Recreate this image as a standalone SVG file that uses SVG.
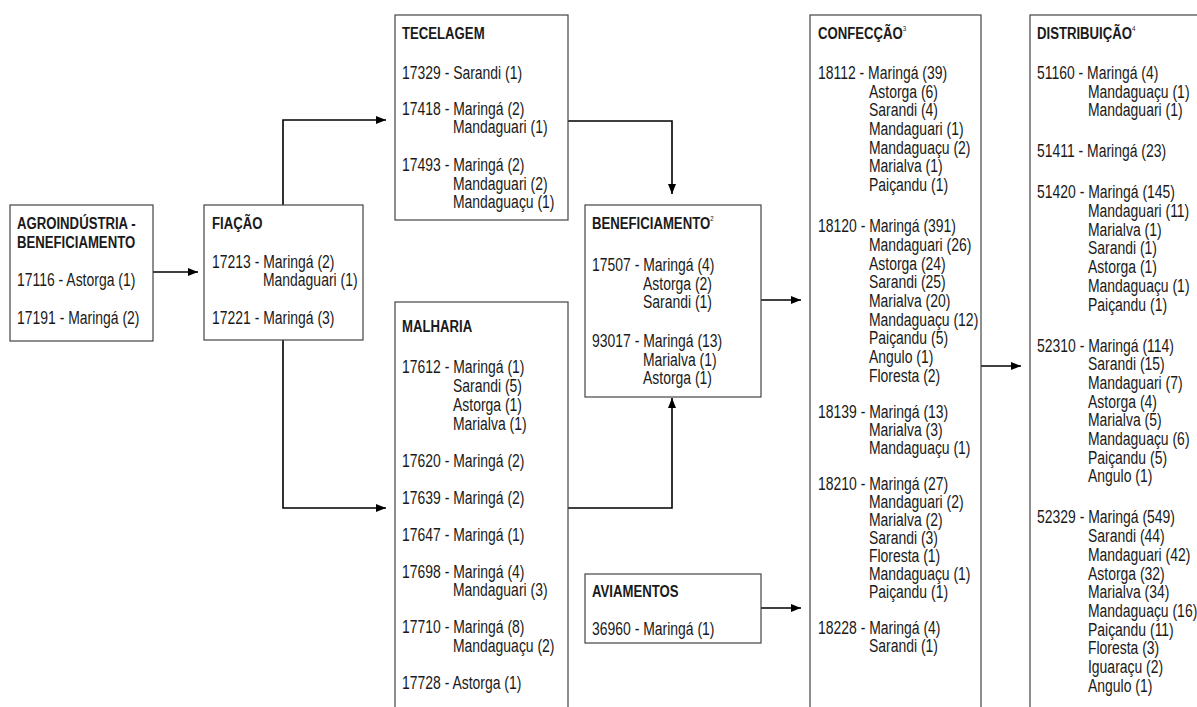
<svg xmlns="http://www.w3.org/2000/svg" width="1197" height="707" viewBox="0 0 1197 707">
<defs>
<style>
text{font-family:'Liberation Sans',Arial,sans-serif;font-size:18px;fill:#1a1a1a}
.t{font-weight:bold;font-size:17px}
.sup{font-size:8px;font-weight:normal}
.box{fill:#fff;stroke:#444;stroke-width:1.2}
.con{fill:none;stroke:#000;stroke-width:1.6}
</style>
<marker id="ah" viewBox="0 0 10 8" markerWidth="10" markerHeight="8" refX="10" refY="4" orient="auto" markerUnits="userSpaceOnUse">
<path d="M0,0 L10,4 L0,8 z" fill="#000"/>
</marker>
</defs>
<rect width="1197" height="707" fill="#fff"/>

<g id="connectors">
<path class="con" d="M153,272 H198" marker-end="url(#ah)"/>
<path class="con" d="M283,205 V120 H386" marker-end="url(#ah)"/>
<path class="con" d="M283,340 V508 H386" marker-end="url(#ah)"/>
<path class="con" d="M568,121 H672 V194" marker-end="url(#ah)"/>
<path class="con" d="M568,508 H672 V398" marker-end="url(#ah)"/>
<path class="con" d="M761,300 H801" marker-end="url(#ah)"/>
<path class="con" d="M761,608 H801" marker-end="url(#ah)"/>
<path class="con" d="M981,366 H1021" marker-end="url(#ah)"/>
</g>

<g id="agro">
<rect class="box" x="10" y="205" width="143" height="136"/>
<g transform="matrix(0.775,0,0,1,3.825,0)">
<text class="t" x="17" y="229">AGROINDÚSTRIA -</text>
<text class="t" x="17" y="248">BENEFICIAMENTO</text>
<text x="17" y="286">17116 - Astorga (1)</text>
<text x="17" y="324">17191 - Maringá (2)</text>
</g>
</g>

<g id="fiacao">
<rect class="box" x="204" y="205" width="159" height="135"/>
<g transform="matrix(0.775,0,0,1,47.7,0)">
<text class="t" x="212" y="229">FIAÇÃO</text>
<text x="212" y="268">17213 - Maringá (2)</text>
<text x="277.8" y="286.5">Mandaguari (1)</text>
<text x="212" y="324">17221 - Maringá (3)</text>
</g>
</g>

<g id="tecelagem">
<rect class="box" x="395" y="15" width="173" height="205"/>
<g transform="matrix(0.775,0,0,1,90.45,0)">
<text class="t" x="402" y="39">TECELAGEM</text>
<text x="402" y="79">17329 - Sarandi (1)</text>
<text x="402" y="115">17418 - Maringá (2)</text>
<text x="467.8" y="133.5">Mandaguari (1)</text>
<text x="402" y="171.5">17493 - Maringá (2)</text>
<text x="467.8" y="190">Mandaguari (2)</text>
<text x="467.8" y="208.5">Mandaguaçu (1)</text>
</g>
</g>

<g id="malharia">
<rect class="box" x="395" y="302" width="173" height="420"/>
<g transform="matrix(0.775,0,0,1,90.45,0)">
<text class="t" x="402" y="332">MALHARIA</text>
<text x="402" y="373.5">17612 - Maringá (1)</text>
<text x="467.8" y="392.2">Sarandi (5)</text>
<text x="467.8" y="410.9">Astorga (1)</text>
<text x="467.8" y="429.6">Marialva (1)</text>
<text x="402" y="466.6">17620 - Maringá (2)</text>
<text x="402" y="503.6">17639 - Maringá (2)</text>
<text x="402" y="540.6">17647 - Maringá (1)</text>
<text x="402" y="577.6">17698 - Maringá (4)</text>
<text x="467.8" y="596.3">Mandaguari (3)</text>
<text x="402" y="633.3">17710 - Maringá (8)</text>
<text x="467.8" y="652">Mandaguaçu (2)</text>
<text x="402" y="689">17728 - Astorga (1)</text>
</g>
</g>

<g id="beneficiamento">
<rect class="box" x="585" y="205" width="176" height="192"/>
<g transform="matrix(0.775,0,0,1,133.2,0)">
<text class="t" x="592" y="229">BENEFICIAMENTO<tspan class="sup" dy="-8">2</tspan></text>
<text x="592" y="271">17507 - Maringá (4)</text>
<text x="657.8" y="289.7">Astorga (2)</text>
<text x="657.8" y="308.4">Sarandi (1)</text>
<text x="592" y="347">93017 - Maringá (13)</text>
<text x="657.8" y="365.7">Marialva (1)</text>
<text x="657.8" y="384.4">Astorga (1)</text>
</g>
</g>

<g id="aviamentos">
<rect class="box" x="585" y="574" width="176" height="69"/>
<g transform="matrix(0.775,0,0,1,133.2,0)">
<text class="t" x="592" y="597">AVIAMENTOS</text>
<text x="592" y="635">36960 - Maringá (1)</text>
</g>
</g>

<g id="confeccao">
<rect class="box" x="810" y="15" width="171" height="720"/>
<g transform="matrix(0.775,0,0,1,184.05,0)">
<text class="t" x="818" y="39">CONFECÇÃO<tspan class="sup" dy="-8">3</tspan></text>
<text x="818" y="79">18112 - Maringá (39)</text>
<text x="883.8" y="97.7">Astorga (6)</text>
<text x="883.8" y="116.4">Sarandi (4)</text>
<text x="883.8" y="135.1">Mandaguari (1)</text>
<text x="883.8" y="153.8">Mandaguaçu (2)</text>
<text x="883.8" y="172.5">Marialva (1)</text>
<text x="883.8" y="191.2">Paiçandu (1)</text>
<text x="818" y="232.2">18120 - Maringá (391)</text>
<text x="883.8" y="250.9">Mandaguari (26)</text>
<text x="883.8" y="269.6">Astorga (24)</text>
<text x="883.8" y="288.3">Sarandi (25)</text>
<text x="883.8" y="307">Marialva (20)</text>
<text x="883.8" y="325.7">Mandaguaçu (12)</text>
<text x="883.8" y="344.4">Paiçandu (5)</text>
<text x="883.8" y="363.1">Angulo (1)</text>
<text x="883.8" y="381.8">Floresta (2)</text>
<text x="818" y="418">18139 - Maringá (13)</text>
<text x="883.8" y="436">Marialva (3)</text>
<text x="883.8" y="454">Mandaguaçu (1)</text>
<text x="818" y="490">18210 - Maringá (27)</text>
<text x="883.8" y="508">Mandaguari (2)</text>
<text x="883.8" y="526">Marialva (2)</text>
<text x="883.8" y="544">Sarandi (3)</text>
<text x="883.8" y="562">Floresta (1)</text>
<text x="883.8" y="580">Mandaguaçu (1)</text>
<text x="883.8" y="598">Paiçandu (1)</text>
<text x="818" y="634">18228 - Maringá (4)</text>
<text x="883.8" y="652">Sarandi (1)</text>
</g>
</g>

<g id="distribuicao">
<rect class="box" x="1030" y="15" width="200" height="720"/>
<g transform="matrix(0.775,0,0,1,233.325,0)">
<text class="t" x="1037" y="39">DISTRIBUIÇÃO<tspan class="sup" dy="-8">4</tspan></text>
<text x="1037" y="79">51160 - Maringá (4)</text>
<text x="1102.8" y="97.7">Mandaguaçu (1)</text>
<text x="1102.8" y="116.4">Mandaguari (1)</text>
<text x="1037" y="157.4">51411 - Maringá (23)</text>
<text x="1037" y="198.4">51420 - Maringá (145)</text>
<text x="1102.8" y="217.1">Mandaguari (11)</text>
<text x="1102.8" y="235.8">Marialva (1)</text>
<text x="1102.8" y="254.5">Sarandi (1)</text>
<text x="1102.8" y="273.2">Astorga (1)</text>
<text x="1102.8" y="291.9">Mandaguaçu (1)</text>
<text x="1102.8" y="310.6">Paiçandu (1)</text>
<text x="1037" y="351.6">52310 - Maringá (114)</text>
<text x="1102.8" y="370.3">Sarandi (15)</text>
<text x="1102.8" y="389">Mandaguari (7)</text>
<text x="1102.8" y="407.7">Astorga (4)</text>
<text x="1102.8" y="426.4">Marialva (5)</text>
<text x="1102.8" y="445.1">Mandaguaçu (6)</text>
<text x="1102.8" y="463.8">Paiçandu (5)</text>
<text x="1102.8" y="482.5">Angulo (1)</text>
<text x="1037" y="523.5">52329 - Maringá (549)</text>
<text x="1102.8" y="542.2">Sarandi (44)</text>
<text x="1102.8" y="560.9">Mandaguari (42)</text>
<text x="1102.8" y="579.6">Astorga (32)</text>
<text x="1102.8" y="598.3">Marialva (34)</text>
<text x="1102.8" y="617">Mandaguaçu (16)</text>
<text x="1102.8" y="635.7">Paiçandu (11)</text>
<text x="1102.8" y="654.4">Floresta (3)</text>
<text x="1102.8" y="673.1">Iguaraçu (2)</text>
<text x="1102.8" y="691.8">Angulo (1)</text>
</g>
</g>
</svg>
